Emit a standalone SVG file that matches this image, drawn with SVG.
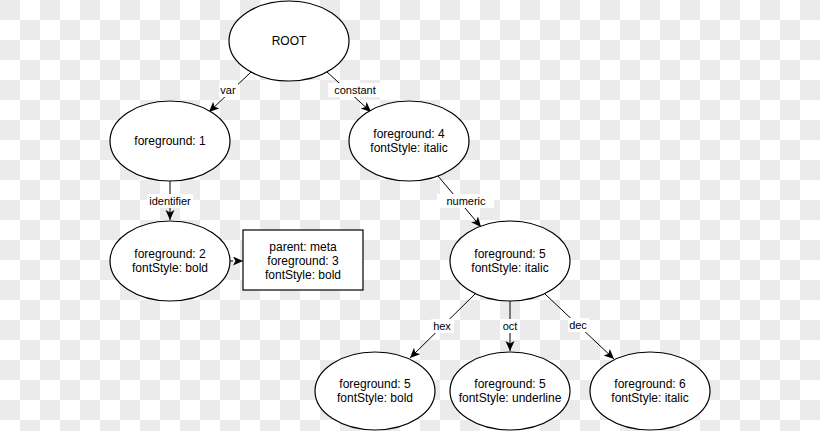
<svg xmlns="http://www.w3.org/2000/svg" width="820" height="431" viewBox="0 0 820 431">
<defs>
<pattern id="checker" width="40" height="40" patternUnits="userSpaceOnUse">
<rect width="40" height="40" fill="#ffffff"/>
<rect width="20" height="20" fill="#ebebeb"/>
<rect x="20" y="20" width="20" height="20" fill="#ebebeb"/>
</pattern>
<marker id="arr" markerUnits="userSpaceOnUse" markerWidth="12" markerHeight="10" refX="10" refY="4.5" orient="auto">
<path d="M0,0 L10,4.5 L0,9 L2.5,4.5 Z" fill="#000"/>
</marker>
</defs>
<style>
.n ellipse, .n rect { fill:#fff; stroke:#000; stroke-width:1.2; }
.t { font-family:"Liberation Sans", Arial, sans-serif; font-size:12px; fill:#000; text-anchor:middle; }
.e line { stroke:#000; stroke-width:1; marker-end:url(#arr); }
.lb rect { fill:#fff; }
.lt { font-family:"Liberation Sans", Arial, sans-serif; font-size:11px; fill:#000; text-anchor:middle; }
</style>
<rect width="820" height="431" fill="url(#checker)"/>

<g id="edges" class="e">
<line x1="251" y1="72" x2="209" y2="112"/>
<line x1="327" y1="72" x2="371" y2="112"/>
<line x1="170" y1="181" x2="170" y2="220"/>
<line x1="230" y1="261" x2="243" y2="261" stroke-dasharray="3,3"/>
<line x1="438" y1="176" x2="481" y2="227"/>
<line x1="475" y1="294" x2="410" y2="358"/>
<line x1="510" y1="301" x2="510" y2="351"/>
<line x1="545" y1="294" x2="614" y2="359"/>
<g class="lb">
<rect x="219" y="83" width="19" height="14"/>
<rect x="328" y="83" width="55" height="14"/>
<rect x="147" y="194" width="46" height="14"/>
<rect x="437" y="194" width="57" height="14"/>
<rect x="431" y="319" width="23" height="14"/>
<rect x="500" y="319" width="19" height="14"/>
<rect x="568" y="318" width="21" height="14"/>
</g>
<text class="lt" x="228" y="94">var</text>
<text class="lt" x="355" y="94">constant</text>
<text class="lt" x="170" y="205">identifier</text>
<text class="lt" x="466" y="205">numeric</text>
<text class="lt" x="442" y="330">hex</text>
<text class="lt" x="510" y="330">oct</text>
<text class="lt" x="578" y="329">dec</text>
</g>

<g id="root" class="n"><ellipse cx="289" cy="41" rx="60" ry="40"/><text class="t" x="289" y="45">ROOT</text></g>
<g id="fg1" class="n"><ellipse cx="170" cy="141" rx="60" ry="40"/><text class="t" x="170" y="145">foreground: 1</text></g>
<g id="fg4" class="n"><ellipse cx="409" cy="141" rx="60" ry="40"/><text class="t" x="409" y="138">foreground: 4</text><text class="t" x="409" y="152">fontStyle: italic</text></g>
<g id="fg2" class="n"><ellipse cx="170" cy="261" rx="60" ry="40"/><text class="t" x="170" y="258">foreground: 2</text><text class="t" x="170" y="272">fontStyle: bold</text></g>
<g id="meta" class="n"><rect x="243" y="230" width="120" height="60"/><text class="t" x="303" y="251">parent: meta</text><text class="t" x="303" y="265">foreground: 3</text><text class="t" x="303" y="279">fontStyle: bold</text></g>
<g id="fg5" class="n"><ellipse cx="510" cy="261" rx="60" ry="40"/><text class="t" x="510" y="258">foreground: 5</text><text class="t" x="510" y="272">fontStyle: italic</text></g>
<g id="hex" class="n"><ellipse cx="375" cy="391" rx="60" ry="39"/><text class="t" x="375" y="388">foreground: 5</text><text class="t" x="375" y="402">fontStyle: bold</text></g>
<g id="oct" class="n"><ellipse cx="510" cy="391" rx="60" ry="39"/><text class="t" x="510" y="388">foreground: 5</text><text class="t" x="510" y="402">fontStyle: underline</text></g>
<g id="dec" class="n"><ellipse cx="650" cy="391" rx="60" ry="39"/><text class="t" x="650" y="388">foreground: 6</text><text class="t" x="650" y="402">fontStyle: italic</text></g>
</svg>
